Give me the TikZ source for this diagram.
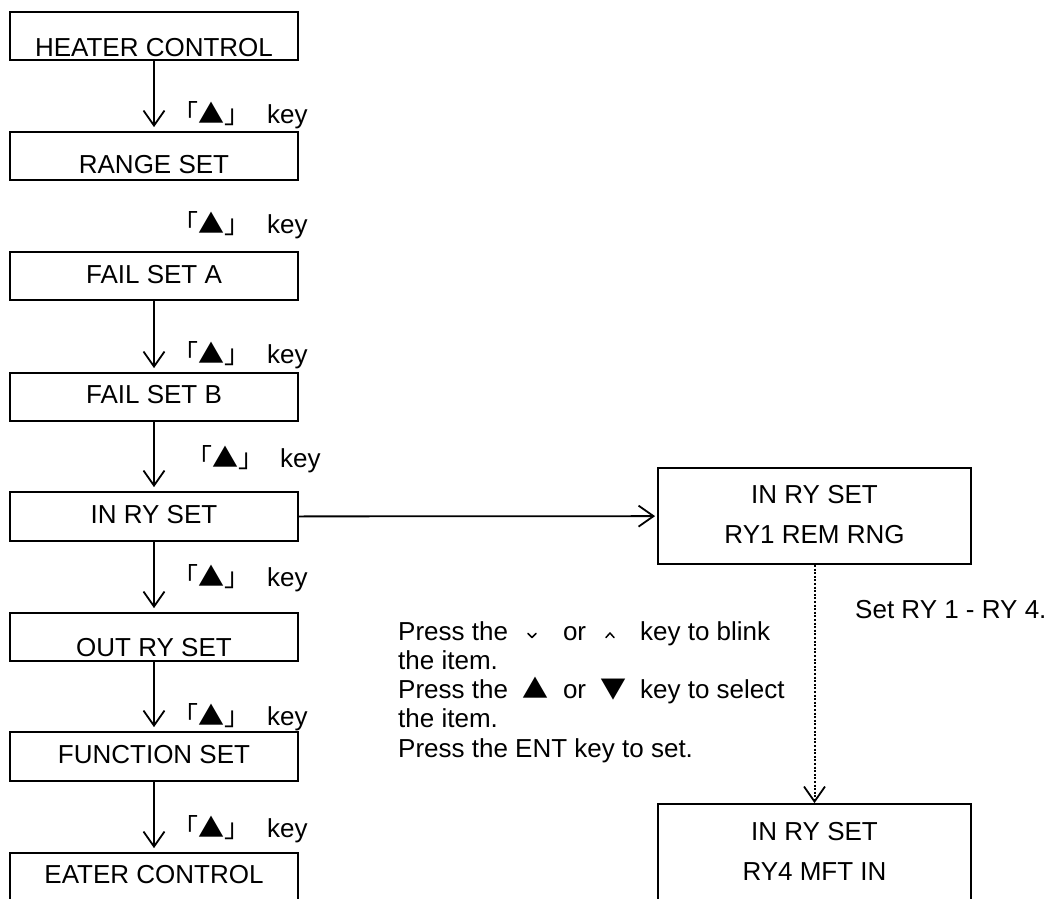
\documentclass[tikz,border=0pt]{standalone}
\usepackage{fontspec}
\setmainfont{Liberation Sans}
\newfontfamily\cjk{Noto Sans CJK JP}
\usetikzlibrary{arrows.meta}
\begin{document}
\begin{tikzpicture}[x=1pt,y=-1pt,
  box/.style={draw,line width=1.8pt,minimum width=288pt,minimum height=48pt,inner sep=0pt},
  rbox/.style={draw,line width=1.8pt,minimum width=313pt,minimum height=96pt,inner sep=0pt},
  txt/.style={inner sep=0pt,anchor=base,font=\fontsize{26}{29}\selectfont},
  ltxt/.style={txt,anchor=base west},
  arr/.style={line width=1.8pt,-{Straight Barb[length=15pt,width=21pt]},shorten >=4pt},
  darr/.style={line width=2pt,dash pattern=on 2pt off 1.6pt,-{Straight Barb[length=15pt,width=21pt,line width=1.8pt]}},
  chev/.style={line width=1.5pt,line cap=round,line join=round}
]
\clip (0,0) rectangle (1049,898);
% left column boxes
\node[box] (hc) at (154,36) {};
\node[txt] (hct) at (154,56) {HEATER CONTROL};
\node[box] (rs) at (154,156) {};
\node[txt] (rst) at (154,173) {RANGE SET};
\node[box] (fa) at (154,276) {};
\node[txt] (fat) at (154,283) {FAIL SET A};
\node[box] (fb) at (154,397) {};
\node[txt] (fbt) at (154,403) {FAIL SET B};
\node[box,minimum height=49pt] (ir) at (154,516.5) {};
\node[txt] (irt) at (154,523) {IN RY SET};
\node[box] (or) at (154,637) {};
\node[txt] (ort) at (154,656) {OUT RY SET};
\node[box,minimum height=49pt] (fs) at (154,756.5) {};
\node[txt] (fst) at (154,763) {FUNCTION SET};
\node[box] (ec) at (154,877) {};
\node[txt] (ect) at (154,883) {EATER CONTROL};
% arrows
\draw[arr] (hc) -- (rs);
\draw[arr] (fa) -- (fb);
\draw[arr] (fb) -- (ir);
\draw[arr] (ir) -- (or);
\draw[arr] (or) -- (fs);
\draw[arr] (fs) -- (ec);
% key labels
\node[ltxt] (k1a) at (172,123) {\cjk 「▲」};
\node[ltxt] (k1b) at (267,123) {key};
\node[ltxt] (k2a) at (172,233) {\cjk 「▲」};
\node[ltxt] (k2b) at (267,233) {key};
\node[ltxt] (k3a) at (172,363) {\cjk 「▲」};
\node[ltxt] (k3b) at (267,363) {key};
\node[ltxt] (k4a) at (186,467) {\cjk 「▲」};
\node[ltxt] (k4b) at (280,467) {key};
\node[ltxt] (k5a) at (172,586) {\cjk 「▲」};
\node[ltxt] (k5b) at (267,586) {key};
\node[ltxt] (k6a) at (172,725) {\cjk 「▲」};
\node[ltxt] (k6b) at (267,725) {key};
\node[ltxt] (k7a) at (172,837) {\cjk 「▲」};
\node[ltxt] (k7b) at (267,837) {key};
% right boxes
\node[rbox] (r1) at (814.5,516) {};
\node[txt] (r1a) at (814.5,503) {IN RY SET};
\node[txt] (r1b) at (814.5,543) {RY1 REM RNG};
\node[rbox] (r2) at (814.5,852) {};
\node[txt] (r2a) at (814.5,840) {IN RY SET};
\node[txt] (r2b) at (814.5,880) {RY4 MFT IN};
\draw[arr,shorten >=2pt] (ir) -- (r1);
\draw[darr] (r1.south) -- (r2.north);
\node[ltxt] (setry) at (855,618) {Set RY 1 - RY 4.};
% instructions
\node[ltxt] (l1) at (398,640) {Press the\hspace{55pt}or\hspace{54pt}key to blink};
\node[ltxt] (l2) at (398,669) {the item.};
\node[ltxt] (l3) at (398,698) {Press the\makebox[55pt]{\cjk ▲}or\makebox[54pt]{\cjk ▼}key to select};
\node[ltxt] (l4) at (398,727) {the item.};
\node[ltxt] (l5) at (398,757) {Press the ENT key to set.};
\draw[chev] (528,633.5) -- (532,637.5) -- (536,633.5);
\draw[chev] (606,637.5) -- (610,633) -- (614,637.5);
\end{tikzpicture}
\end{document}
